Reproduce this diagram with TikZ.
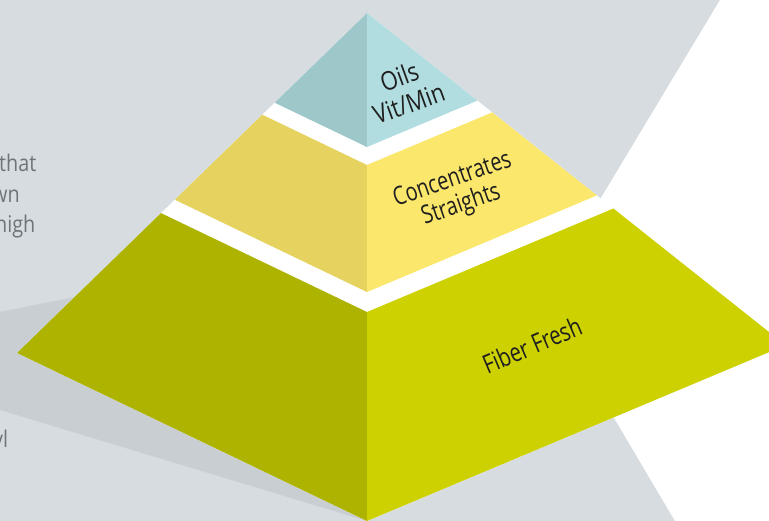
\documentclass[tikz,border=0pt]{standalone}
\usepackage{fontspec}
\setmainfont{Open Sans}
\usetikzlibrary{positioning}

\definecolor{bgGrey}{HTML}{D6DCDF}
\definecolor{shadeGrey}{HTML}{C8CED1}
\definecolor{oilL}{HTML}{9DC7C8}
\definecolor{oilR}{HTML}{B1DDE0}
\definecolor{concL}{HTML}{E6D35F}
\definecolor{concR}{HTML}{FBE76B}
\definecolor{fibL}{HTML}{AEB300}
\definecolor{fibR}{HTML}{CDD100}
\definecolor{textGrey}{HTML}{6E7478}

\tikzset{
    Tnode/.style = {
       align=center,
       inner sep=0pt,
       text=black!88,
       font=\fontsize{26}{28}\selectfont
    },
    Pnode/.style = {
       anchor=base west,
       inner sep=0pt,
       text=textGrey,
       xscale=0.86,
       font=\fontsize{23}{30}\selectfont
    }
}

\begin{document}
\begin{tikzpicture}[x=1pt,y=-1pt]
   \useasboundingbox (0,0) rectangle (769,521);
   \clip (0,0) rectangle (769,521);
   % backdrop
   \fill[bgGrey] (0,0) rectangle (769,521);
   \fill[shadeGrey] (0,312) -- (150,282) -- (367,521) -- (0,410) -- cycle;
   \fill[white] (720,0) -- (769,0) -- (769,521) -- (675,521) -- (542,296) -- cycle;
   % text running behind the pyramid
   \node[Pnode] (p1) at (-1,172) {that};
   \node[Pnode] (p2) at (-8,203) {wn};
   \node[Pnode] (p3) at (-5,233) {high};
   \node[Pnode] (p4) at (-7,447) {vl};
   % corners of the tiers
   \coordinate (apex) at (367,13);
   \coordinate (oL) at (274.7,102.7);
   \coordinate (oC) at (367,147);
   \coordinate (oR) at (477.4,100.6);
   \coordinate (cTL) at (262.3,114.7);
   \coordinate (cTC) at (367,165);
   \coordinate (cTR) at (492.2,112.4);
   \coordinate (cBL) at (174.8,199.7);
   \coordinate (cBC) at (367,292);
   \coordinate (cBR) at (596.9,195.4);
   \coordinate (fTL) at (161,213.1);
   \coordinate (fTC) at (367,312);
   \coordinate (fTR) at (613.4,208.5);
   \coordinate (fBL) at (17,353);
   \coordinate (fBC) at (367,521);
   \coordinate (fBR) at (785.6,345.2);
   % white body shows through the gaps
   \fill[white] (apex) -- (fBL) -- (fBC) -- (fBR) -- cycle;
   % top tier
   \fill[oilL] (apex) -- (oL) -- (oC) -- cycle;
   \fill[oilR] (apex) -- (oC) -- (oR) -- cycle;
   % middle tier
   \fill[concL] (cTL) -- (cBL) -- (cBC) -- (cTC) -- cycle;
   \fill[concR] (cTC) -- (cBC) -- (cBR) -- (cTR) -- cycle;
   % bottom tier
   \fill[fibL] (fTL) -- (fBL) -- (fBC) -- (fTC) -- cycle;
   \fill[fibR] (fTC) -- (fBC) -- (fBR) -- (fTR) -- cycle;
   \node[Tnode, rotate=20, xscale=0.85] (Oils) at (404,90) {Oils\\Vit/Min};
   \node[Tnode, rotate=19, xscale=0.78, font=\fontsize{25.5}{27}\selectfont] (Concentrates) at (457,193) {Concentrates\\Straights};
   \node[Tnode, rotate=23, xscale=0.78] (Fiber) at (532,345) {Fiber Fresh};
\end{tikzpicture}
\end{document}
